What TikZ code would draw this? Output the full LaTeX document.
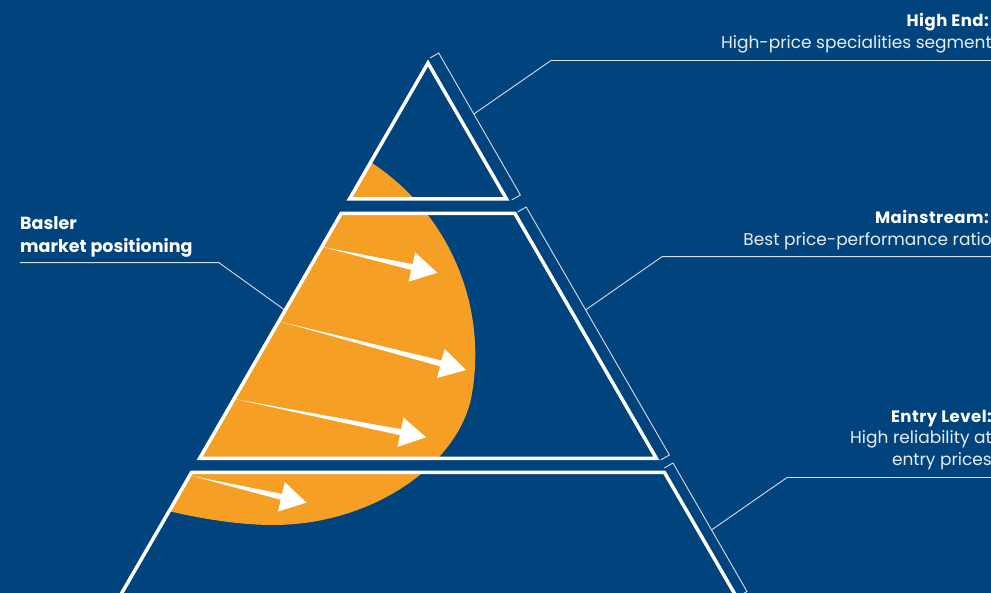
\documentclass[tikz,border=0pt]{standalone}
\usepackage{fontspec}
\setmainfont{Poppins}
\usetikzlibrary{calc}
\definecolor{bg}{HTML}{01437C}
\definecolor{org}{HTML}{F5A024}
\definecolor{txt}{HTML}{E8EDF3}
\definecolor{thin}{HTML}{D5DEE9}
\newcommand\wedgearrow[5]{% start, tip, head length, half span, shaft half width
  \path ($(#2)!#3!(#1)$) coordinate (hb);
  \fill[white] (#1) -- ($(hb)!#5!90:(#2)$) -- ($(hb)!#4!90:(#2)$) -- (#2)
     -- ($(hb)!#4!-90:(#2)$) -- ($(hb)!#5!-90:(#2)$) -- cycle;
}
\begin{document}
\begin{tikzpicture}[x=1pt,y=-1pt,
  piece/.style={draw=white, line width=3.5pt, line join=miter},
  bracket/.style={draw=thin, line width=0.9pt},
  leader/.style={draw=thin, line width=0.9pt},
  head/.style={font=\fontsize{16.5}{20}\selectfont\bfseries\addfontfeatures{LetterSpace=3}, text=white, inner sep=0pt, anchor=base east},
  desc/.style={font=\fontsize{17}{20}\selectfont, text=txt, inner sep=0pt, anchor=base east},
  lefttxt/.style={font=\fontsize{17.5}{21}\selectfont\bfseries, text=white, inner sep=0pt, anchor=base west}]
\fill[bg] (0,0) rectangle (991,593);
\useasboundingbox (0,0) rectangle (991,593);
\clip (0,0) rectangle (991,593);
% pyramid pieces
\coordinate (t1) at (428,63);
\coordinate (t2) at (506.5,199);
\coordinate (t3) at (349.5,199);
\coordinate (m1) at (341.1,213.5);
\coordinate (m2) at (514.9,213.5);
\coordinate (m3) at (656.4,458.5);
\coordinate (m4) at (199.6,458.5);
\coordinate (b1) at (191.5,472.5);
\coordinate (b2) at (664.5,472.5);
\coordinate (b3) at (740,603);
\coordinate (b4) at (116,603);
% orange
\begin{scope}
\clip (t1)--(t2)--(t3)--cycle (m1)--(m2)--(m3)--(m4)--cycle (b1)--(b2)--(b3)--(b4)--cycle;
\fill[org] (40,139) -- plot[domain=-70:10, samples=60] ({245.6+229.7*cos(\x)},{354.8+229.7*sin(\x)})
   .. controls (459.6,463.6) and (373,525) .. (273,525)
   .. controls (225,525) and (165,512) .. (130,500) -- (40,500) -- cycle;
\end{scope}
\path[piece] (t1)--(t2)--(t3)--cycle;
\path[piece] (m1)--(m2)--(m3)--(m4)--cycle;
\path[piece] (b1)--(b2)--(b3)--(b4)--cycle;
% arrows
\coordinate (s1) at (322.5,247); \coordinate (e1) at (437.3,272.7);
\coordinate (s2) at (280.5,321.7); \coordinate (e2) at (466,370);
\coordinate (s3) at (236,399.3); \coordinate (e3) at (426,437.3);
\coordinate (s4) at (192,476); \coordinate (e4) at (306.7,502.7);
\wedgearrow{s1}{e1}{26pt}{15pt}{3pt}
\wedgearrow{s2}{e2}{26pt}{15pt}{3pt}
\wedgearrow{s3}{e3}{26pt}{15pt}{3pt}
\wedgearrow{s4}{e4}{26pt}{15pt}{3pt}
% brackets
\coordinate (p1) at (430,58); \coordinate (p1o) at (438.7,53);
\coordinate (p2o) at (520.4,195); \coordinate (p2) at (511.7,200);
\path[bracket] (p1)--(p1o)--(p2o)--(p2);
\coordinate (q1) at (517.5,212); \coordinate (q1o) at (526.2,207);
\coordinate (q2o) at (669.4,455); \coordinate (q2) at (660.7,460);
\path[bracket] (q1)--(q1o)--(q2o)--(q2);
\coordinate (r1) at (664.3,468); \coordinate (r1o) at (673,463);
\coordinate (r2o) at (747,591.5); \coordinate (r2) at (738.3,596.5);
\path[bracket] (r1)--(r1o)--(r2o)--(r2);
% leaders
\coordinate (la) at ($(p1o)!0.43!(p2o)$);
\coordinate (lb) at (551,60.5); \coordinate (lc) at (995,60.5);
\path[leader] (la)--(lb)--(lc);
\coordinate (ma) at ($(q1o)!0.415!(q2o)$);
\coordinate (mb) at (662,256.7); \coordinate (mc) at (995,256.7);
\path[leader] (ma)--(mb)--(mc);
\coordinate (na) at ($(r1o)!0.521!(r2o)$);
\coordinate (nb) at (787,477.5); \coordinate (nc) at (995,477.5);
\path[leader] (na)--(nb)--(nc);
\coordinate (ka) at (20,262.7); \coordinate (kb) at (219,262.7); \coordinate (kc) at (284,309.5);
\path[leader] (ka)--(kb)--(kc);
% texts
\node[lefttxt] (basler1) at (20,230) {Basler};
\node[lefttxt] (basler2) at (20,252.7) {market positioning};
\node[head] (he1) at (989,26.7) {High End:};
\node[desc] (he2) at (992,49) {High-price specialities segment};
\node[head] (ms1) at (989,224) {Mainstream:};
\node[desc] (ms2) at (992,245.7) {Best price-performance ratio};
\node[head] (el1) at (992,422.3) {Entry Level:};
\node[desc] (el2) at (992,444) {High reliability at};
\node[desc] (el3) at (992,465) {entry prices};
\end{tikzpicture}
\end{document}
